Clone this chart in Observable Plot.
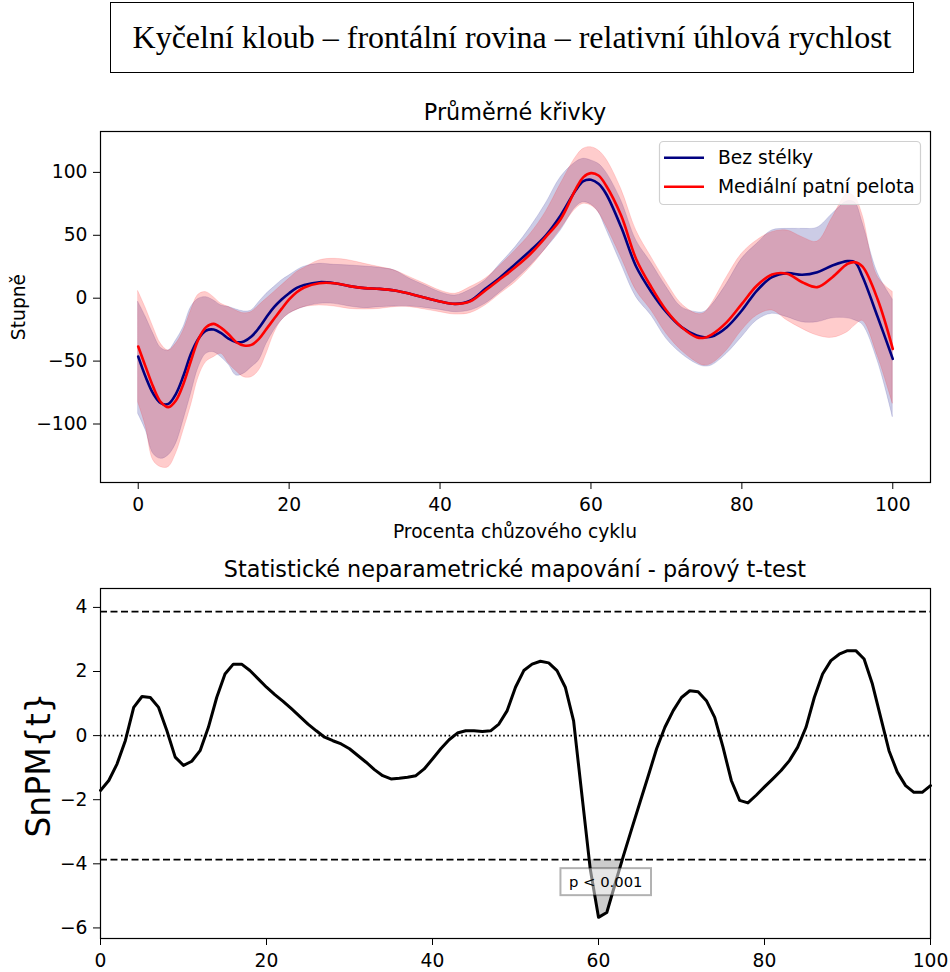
<!DOCTYPE html>
<html>
<head>
<meta charset="utf-8">
<script src="https://cdn.jsdelivr.net/npm/d3@7"></script>
<script src="https://cdn.jsdelivr.net/npm/@observablehq/plot@0.6"></script>
<style>
  body { margin: 0; background: #fff; }
  #page { position: relative; width: 950px; height: 972px; overflow: hidden; background: #fff; }
  #titlebox {
    position: absolute; left: 110px; top: 2px; width: 804px; height: 71px;
    box-sizing: border-box; border: 1.5px solid #000;
    display: flex; align-items: center; justify-content: center;
    font-family: "Liberation Serif", "Times New Roman", serif; font-size: 32px; color: #000;
  }
  #meanChart { position: absolute; left: 0; top: 90px; }
  #spmChart { position: absolute; left: 0; top: 550px; }
</style>
</head>
<body>
<div id="page">
  <div id="titlebox">Kyčelní kloub – frontální rovina – relativní úhlová rychlost</div>
  <div id="meanChart"></div>
  <div id="spmChart"></div>
</div>
<script>
// ---------- Mean curves (gait cycle %, deg/s) ----------
const pct = [0,1,2,3,4,5,6,7,8,9,10,11,12,13,14,15,16,17,18,19,20,21,22,
  24,26,28,30,32,34,36,38,40,42,44,46,48,50,52,54,56,58,
  59,60,61,62,64,66,68,70,72,74,75,76,78,80,82,84,86,88,90,92,94,95,96,98,100];

const bezMean = [-46.4,-62.8,-76,-83.4,-84,-76,-61.5,-44,-32,-25.7,-24.9,-27.8,-32.3,-35,-34.4,-30.5,-23.6,-15,-7.1,-1,4,8.2,10.5,
  12.7,11.9,9.6,8,7.4,6.1,3.5,0.3,-2.6,-4.5,-2,7.4,16.7,27.3,38,49.8,66,86,
  93,94.1,90.9,83,56.5,25,5,-11.1,-23,-29.7,-31,-30.5,-23,-9.8,6.1,16.7,19.9,18.6,20.7,26,29.5,28.6,17,-15,-48.2];
const bezUpper = [-3,-15,-28.3,-39.5,-41.6,-33.6,-23,-7.1,-0.5,0.8,-1.8,-5.8,-7,-9,-10.5,-9.8,-3.2,3.5,8.8,14.1,18,22,25,
  27.3,26.5,26,25.2,24.1,22,15.4,10.1,4.8,2.1,6.6,14.1,27.3,40.6,56.5,75,96.2,108.1,
  110.8,109.5,106.8,100.2,77.7,45.9,28,8.8,-7.1,-11.1,-11,-5.8,11.4,31.3,43.2,53.8,55.1,55.1,56,67,77,76,60,20,-1];
const bezLower = [-92,-105,-123.7,-127.7,-125,-115.8,-97,-76,-55,-44.2,-42.9,-47,-53,-61.5,-60,-55,-49.5,-36.3,-25.7,-17.7,-12.4,-9.3,-7.1,
  -4.5,-4.5,-6.6,-7.9,-7.1,-6.6,-6.6,-7.7,-9.3,-11.1,-9.8,-4.5,4.8,14.6,26,39.2,53.8,72.4,
  76.3,74.5,68.4,55.1,27.3,0.8,-13.8,-32.3,-44.2,-52.2,-54.3,-53.5,-44.2,-31,-17.7,-12.4,-15.1,-19.1,-19.1,-16,-16,-17.7,-21,-50,-94.6];

const pelotaMean = [-38.4,-54.8,-70.7,-82.6,-86.6,-81.3,-68,-49.5,-32.3,-23,-20.4,-23.6,-28.9,-35,-37.6,-37.1,-32.3,-24.4,-16.4,-8.5,-1,4.8,8.5,
  11.9,11.9,9.6,8,7.4,6.1,3.5,0.3,-2.6,-4.5,-2.5,6.1,15.4,24.7,35.3,48.5,63,86.9,
  96.2,99.4,97.5,89.6,65.7,31,8.8,-9.8,-23,-31,-31.5,-28.9,-19,-4.5,10.1,18.8,19.4,12.7,8.8,16.7,27.3,28.6,25,-1,-40.3];
const pelotaUpper = [5.5,-8,-23,-36.3,-41.6,-36.3,-25.7,-9.8,2.9,4.8,0.8,-4.5,-7,-10,-12,-11,-5.8,-0.5,4.8,10.1,15.4,20.7,24,
  30,31.3,30,27.3,24.7,22,16.7,11.4,6.1,3.5,8.8,15.4,26,38,51.2,68.4,90.9,112.1,
  118.7,120,117.4,110.8,86.9,53.8,32.6,12.7,-4.5,-12.4,-12,-4.5,16.7,35.3,45.9,52.5,53.8,48.5,45,64,83,80.3,66,17,5];
const pelotaLower = [-83,-102,-129,-134.3,-134.3,-123.7,-105.2,-85.3,-62.8,-50.8,-46.9,-44.2,-52,-58,-62.8,-62.8,-57.5,-44.2,-28.3,-17.7,-12.4,-9.3,-7.1,
  -5.8,-6.6,-8.5,-9,-8.5,-7.1,-7.1,-9,-11.1,-13,-11.9,-5.8,3.5,12.7,24.7,39.2,55.1,71,
  75,73.7,68.4,57.8,32.6,6.1,-9.8,-28.3,-41.6,-50.9,-53.5,-52.2,-41.6,-25.7,-13.8,-9.8,-17.7,-24.4,-29.7,-31.5,-27,-21.7,-18,-46,-84];

const seriesNames = ["Bez stélky", "Mediální patní pelota"];
const seriesColors = ["navy", "red"];
const meanXTicks = [0, 20, 40, 60, 80, 100];
const meanYTicks = [-100, -50, 0, 50, 100];

// ---------- SnPM paired t-test ----------
const tPct = d3.range(0, 101);
const tValues = [-1.71,-1.40,-0.88,-0.15,0.88,1.22,1.19,0.88,0.15,-0.67,-0.93,-0.8,-0.47,0.26,1.19,1.92,2.23,2.23,2.03,1.77,
  1.51,1.28,1.07,0.84,0.6,0.36,0.15,-0.05,-0.16,-0.26,-0.41,-0.62,-0.83,-1.06,-1.25,-1.35,-1.33,-1.30,-1.25,-1.04,
  -0.73,-0.41,-0.13,0.08,0.15,0.15,0.13,0.15,0.36,0.78,1.51,2.03,2.23,2.32,2.27,2.03,1.51,0.46,-1.85,-4.15,
  -5.67,-5.52,-4.63,-3.75,-2.91,-2.08,-1.25,-0.41,0.26,0.78,1.19,1.4,1.37,1.09,0.57,-0.36,-1.4,-2.02,-2.1,-1.86,
  -1.6,-1.35,-1.09,-0.78,-0.36,0.26,1.19,1.92,2.34,2.54,2.65,2.65,2.39,1.61,0.57,-0.47,-1.14,-1.56,-1.77,-1.77,-1.56];
const tCritical = 3.87;
const clusterLabel = "p < 0.001";
const clusterLabelY = -4.58;
const spmXTicks = [0, 20, 40, 60, 80, 100];
const spmYTicks = [-6, -4, -2, 0, 2, 4];

const FONT = "DejaVu Sans, sans-serif";
const TICK = 18.7;
const baseStyle = { fontSize: TICK + "px", fontFamily: FONT, color: "#000", background: "#fff", overflow: "visible" };

// ----- top chart -----
const meanRows = pct.map((x, i) => ({
  x, bm: bezMean[i], bu: bezUpper[i], bl: bezLower[i],
  pm: pelotaMean[i], pu: pelotaUpper[i], pl: pelotaLower[i]
}));

const meanPlot = Plot.plot({
  width: 950, height: 460,
  marginLeft: 100, marginRight: 20, marginTop: 41, marginBottom: 68,
  x: { domain: [-5, 105] },
  y: { domain: [-146.5, 132.5] },
  style: baseStyle,
  marks: [
    Plot.areaY(meanRows, { x: "x", y1: "bl", y2: "bu", fill: seriesColors[0], fillOpacity: 0.2,
      stroke: seriesColors[0], strokeOpacity: 0.12, strokeWidth: 1, curve: "catmull-rom" }),
    Plot.areaY(meanRows, { x: "x", y1: "pl", y2: "pu", fill: seriesColors[1], fillOpacity: 0.2,
      stroke: seriesColors[1], strokeOpacity: 0.12, strokeWidth: 1, curve: "catmull-rom" }),
    Plot.lineY(meanRows, { x: "x", y: "bm", stroke: seriesColors[0], strokeWidth: 2.6, curve: "catmull-rom" }),
    Plot.lineY(meanRows, { x: "x", y: "pm", stroke: seriesColors[1], strokeWidth: 2.6, curve: "catmull-rom" }),
    Plot.axisX({ ticks: meanXTicks, tickSize: 7, tickPadding: 8, label: null, fontSize: TICK }),
    Plot.axisY({ ticks: meanYTicks, tickSize: 7, tickPadding: 6, label: null, fontSize: TICK }),
    Plot.frame({ stroke: "#000", strokeWidth: 1.2 })
  ]
});
document.getElementById("meanChart").appendChild(meanPlot);

function addText(svg, opts, str) {
  const t = svg.append("text").attr("font-family", FONT).attr("fill", "#000").attr("text-anchor", opts.anchor || "middle")
    .attr("font-size", opts.size);
  if (opts.transform) t.attr("transform", opts.transform); else t.attr("x", opts.x).attr("y", opts.y);
  return t.text(str);
}

{
  const svg = d3.select(meanPlot);
  addText(svg, { x: 515, y: 30, size: 22.3 }, "Průměrné křivky");
  addText(svg, { x: 515, y: 448, size: TICK }, "Procenta chůzového cyklu");
  addText(svg, { transform: "translate(25,217) rotate(-90)", size: TICK }, "Stupně");

  // legend
  const lg = svg.append("g");
  lg.append("rect").attr("x", 659.5).attr("y", 51.5).attr("width", 261).attr("height", 63).attr("rx", 4)
    .attr("fill", "#fff").attr("fill-opacity", 0.8).attr("stroke", "#d0d0d0").attr("stroke-width", 1.2);
  seriesNames.forEach((name, i) => {
    const yy = 67.7 + i * 29;
    lg.append("line").attr("x1", 664).attr("x2", 704).attr("y1", yy).attr("y2", yy)
      .attr("stroke", seriesColors[i]).attr("stroke-width", 2.6);
    addText(lg, { x: 718, y: yy + 6.5, size: TICK, anchor: "start" }, name);
  });
}

// ----- bottom chart -----
const tRows = tPct.map((x, i) => ({ x, t: tValues[i] }));

// supra-threshold clusters (t below −t*), with the crossing points found on the piecewise-linear curve
function findClusters(xs, ts, thr) {
  const pts = []; let id = 0;
  for (let i = 0; i < xs.length; i++) {
    const below = ts[i] <= -thr;
    if (i > 0) {
      const prevBelow = ts[i - 1] <= -thr;
      if (below !== prevBelow) {
        const f = (-thr - ts[i - 1]) / (ts[i] - ts[i - 1]);
        pts.push({ x: xs[i - 1] + f * (xs[i] - xs[i - 1]), t: -thr, cluster: id });
        if (!below) id++;
      }
    }
    if (below) pts.push({ x: xs[i], t: ts[i], cluster: id });
  }
  return pts;
}
const clusterPts = findClusters(tPct, tValues, tCritical);
const clusterLabels = d3.groups(clusterPts, d => d.cluster).map(([c, pts]) => ({
  x: (d3.min(pts, d => d.x) + d3.max(pts, d => d.x)) / 2, y: clusterLabelY, label: clusterLabel
}));

const spmPlot = Plot.plot({
  width: 950, height: 422,
  marginLeft: 100, marginRight: 20, marginTop: 38, marginBottom: 34,
  x: { domain: [0, 100] },
  y: { domain: [-6.33, 4.59] },
  style: baseStyle,
  marks: [
    Plot.areaY(clusterPts, { x: "x", y1: () => -tCritical, y2: "t", z: "cluster", fill: "#cccccc" }),
    Plot.ruleY([tCritical, -tCritical], { stroke: "#000", strokeWidth: 1.6, strokeDasharray: "7,3.5" }),
    Plot.ruleY([0], { stroke: "#000", strokeWidth: 1.6, strokeDasharray: "1.6,2.6" }),
    Plot.lineY(tRows, { x: "x", y: "t", stroke: "#000", strokeWidth: 3, strokeLinejoin: "round" }),
    Plot.text(clusterLabels, { x: "x", y: "y", text: "label", fontSize: 14.8, fill: "#000", fontFamily: FONT }),
    Plot.axisX({ ticks: spmXTicks, tickSize: 7, tickPadding: 8, label: null, fontSize: TICK }),
    Plot.axisY({ ticks: spmYTicks, tickSize: 7, tickPadding: 6, label: null, fontSize: TICK }),
    Plot.frame({ stroke: "#000", strokeWidth: 1.2 })
  ]
});
document.getElementById("spmChart").appendChild(spmPlot);

{
  const svg = d3.select(spmPlot);
  addText(svg, { x: 515, y: 27, size: 22.3 }, "Statistické neparametrické mapování - párový t-test");
  addText(svg, { transform: "translate(50,215) rotate(-90)", size: 33 }, "SnPM{t}");

  // translucent box behind each cluster p-value label
  svg.selectAll("text").filter(function () { return this.textContent === clusterLabel; }).each(function () {
    const bb = this.getBBox();
    const rect = document.createElementNS("http://www.w3.org/2000/svg", "rect");
    rect.setAttribute("x", bb.x - 8.5); rect.setAttribute("y", bb.y - 5);
    rect.setAttribute("width", bb.width + 17); rect.setAttribute("height", bb.height + 10);
    const tr = this.getAttribute("transform");
    if (tr) rect.setAttribute("transform", tr);
    if (this.getAttribute("x") == null) {} // position carried by transform
    rect.setAttribute("fill", "#fff"); rect.setAttribute("fill-opacity", 0.5);
    rect.setAttribute("stroke", "#000"); rect.setAttribute("stroke-opacity", 0.3); rect.setAttribute("stroke-width", 2);
    this.parentNode.insertBefore(rect, this);
  });
}
</script>
</body>
</html>
